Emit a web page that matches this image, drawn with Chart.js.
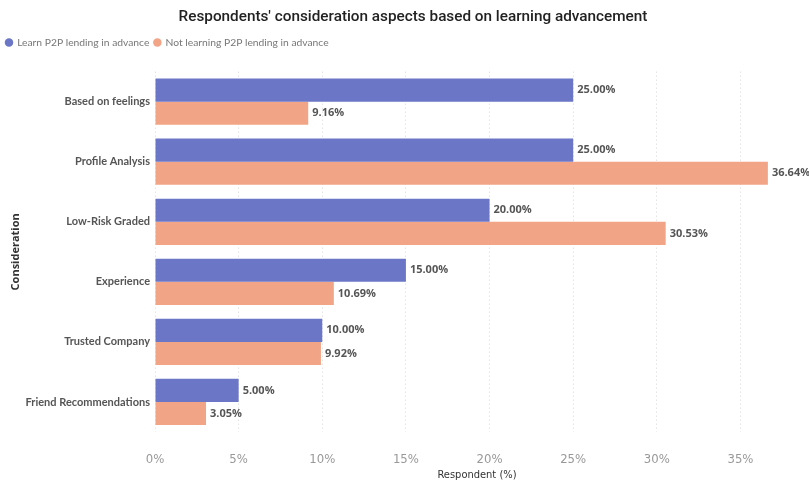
<!DOCTYPE html>
<html>
<head>
<meta charset="utf-8">
<script src="https://cdn.jsdelivr.net/npm/chart.js@4.4.1/dist/chart.umd.min.js"></script>
<style>
    html, body { margin: 0; padding: 0; background: #fff; }
    #wrap { width: 809px; height: 484px; }
</style>
</head>
<body>
<div id="wrap"><canvas id="chart" width="809" height="484"></canvas></div>
<script>
const categories = [
    "Based on feelings",
    "Profile Analysis",
    "Low-Risk Graded",
    "Experience",
    "Trusted Company",
    "Friend Recommendations"
];
const learnAdvance = [25.00, 25.00, 20.00, 15.00, 10.00, 5.00];
const notLearnAdvance = [9.16, 36.64, 30.53, 10.69, 9.92, 3.05];
const seriesNames = ["Learn P2P lending in advance", "Not learning P2P lending in advance"];

const blue = "#6b76c6";
const orange = "#f2a486";

// writes the percentage just past the end of every bar
const valueLabels = {
    id: "valueLabels",
    afterDatasetsDraw(chart) {
        const ctx = chart.ctx;
        ctx.save();
        ctx.font = "bold 11px 'Open Sans'";
        ctx.fillStyle = "#555";
        ctx.textBaseline = "middle";
        ctx.textAlign = "left";
        chart.data.datasets.forEach((ds, i) => {
            chart.getDatasetMeta(i).data.forEach((bar, j) => {
                ctx.fillText(ds.data[j].toFixed(2) + "%", bar.x + 4, bar.y);
            });
        });
        ctx.restore();
    }
};

// more room under the legend, legend pushed to the left edge, title nudged right
const headerTweaks = {
    id: "headerTweaks",
    afterInit(chart) {
        const fit = chart.legend.fit;
        chart.legend.fit = function () {
            fit.call(this);
            this.height += 14;
        };
    },
    afterLayout(chart) {
        chart.legend.left = 1;
        chart.titleBlock.left += 9;
        chart.titleBlock.right += 9;
    }
};

const config = {
    type: "bar",
    data: {
        labels: categories,
        datasets: [
            { label: seriesNames[0], data: learnAdvance, backgroundColor: blue },
            { label: seriesNames[1], data: notLearnAdvance, backgroundColor: orange }
        ]
    },
    options: {
        indexAxis: "y",
        responsive: false,
        animation: false,
        layout: { padding: { left: 9, right: 10, top: 6, bottom: 2 } },
        datasets: {
            bar: { barPercentage: 1, categoryPercentage: 0.77 }
        },
        scales: {
            x: {
                min: 0,
                max: 38.5,
                ticks: {
                    stepSize: 5,
                    includeBounds: false,
                    color: "#999",
                    font: { family: "'Liberation Sans Narrow', 'DejaVu Sans Condensed'", size: 13 },
                    padding: 20,
                    callback: v => v + "%"
                },
                grid: { color: "#d6d6d6", drawTicks: false },
                border: { display: false, dash: [1, 3] },
                title: {
                    display: true,
                    text: "Respondent (%)",
                    color: "#333",
                    font: { family: "'Liberation Sans Narrow', 'DejaVu Sans Condensed'", size: 11 },
                    padding: { top: 2, bottom: 0 }
                },
                afterFit(scale) { scale.height = 50; }
            },
            y: {
                ticks: {
                    color: "#555",
                    font: { family: "Lato", size: 11, weight: "bold" },
                    padding: 5
                },
                grid: { display: false, drawTicks: false },
                border: { display: false },
                title: {
                    display: true,
                    text: "Consideration",
                    color: "#333",
                    font: { family: "'Open Sans'", size: 11, weight: "bold" },
                    padding: 0
                },
                afterFit(scale) { scale.width = 146; }
            }
        },
        plugins: {
            title: {
                display: true,
                text: "Respondents' consideration aspects based on learning advancement",
                color: "#222",
                font: { family: "'Roboto'", size: 15.3, weight: "500" },
                padding: { top: 2, bottom: 6 }
            },
            legend: {
                align: "start",
                labels: {
                    usePointStyle: true,
                    pointStyle: "circle",
                    boxWidth: 6,
                    boxHeight: 6,
                    padding: 5,
                    color: "#777",
                    font: { family: "Lato", size: 10.3 }
                }
            },
            tooltip: { enabled: false }
        }
    },
    plugins: [valueLabels, headerTweaks]
};

new Chart(document.getElementById("chart"), config);
</script>
</body>
</html>
